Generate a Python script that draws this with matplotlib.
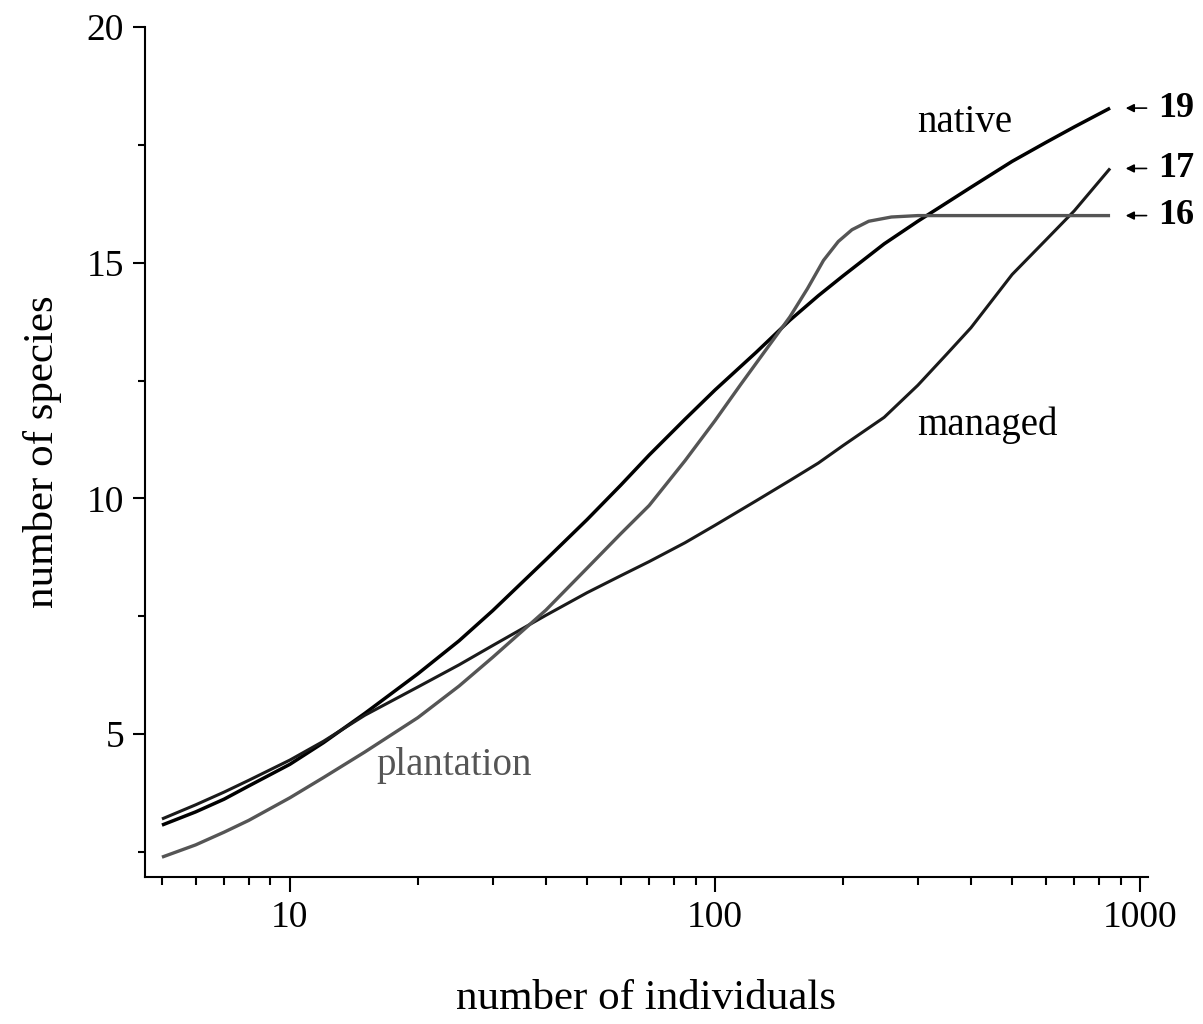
import numpy as np
import matplotlib
matplotlib.use("Agg")
import matplotlib.pyplot as plt
from matplotlib.ticker import FixedLocator, NullFormatter

plt.rcParams['font.family'] = ['Liberation Serif', 'DejaVu Serif']

# ----------------------------
# Rarefaction curves
# ----------------------------
native_n = [5, 6, 7, 8, 10, 12, 15, 20, 25, 30, 40, 50, 60, 70, 85, 100,
            125, 150, 175, 200, 250, 300, 400, 500, 600, 700, 850]
native_s = [3.07, 3.35, 3.62, 3.90, 4.36, 4.82, 5.44, 6.28, 6.98, 7.62,
            8.70, 9.55, 10.28, 10.92, 11.68, 12.30, 13.10, 13.78, 14.30,
            14.72, 15.40, 15.88, 16.60, 17.15, 17.55, 17.88, 18.28]

managed_n = [5, 6, 7, 8, 10, 12, 15, 20, 25, 30, 40, 50, 60, 70, 85, 100,
             125, 150, 175, 200, 250, 300, 350, 400, 500, 600, 700, 850]
managed_s = [3.20, 3.50, 3.77, 4.02, 4.45, 4.85, 5.40, 6.00, 6.47, 6.88,
             7.52, 8.00, 8.36, 8.66, 9.06, 9.43, 9.95, 10.38, 10.75, 11.12,
             11.72, 12.40, 13.05, 13.62, 14.75, 15.48, 16.10, 17.00]

plantation_n = [5, 6, 7, 8, 10, 12, 15, 20, 25, 30, 40, 50, 60, 70, 85, 100,
                115, 130, 150, 165, 180, 195, 210, 230, 260, 300, 400, 600,
                850]
plantation_s = [2.39, 2.65, 2.92, 3.17, 3.65, 4.08, 4.62, 5.35, 6.02, 6.63,
                7.63, 8.52, 9.25, 9.85, 10.80, 11.65, 12.42, 13.08, 13.85,
                14.45, 15.05, 15.45, 15.70, 15.88, 15.97, 16.00, 16.00,
                16.00, 16.00]

end_labels = ["19", "17", "16"]
end_values = [18.28, 17.0, 16.0]

grey = "#555555"

fig = plt.figure(figsize=(12.03, 10.24), dpi=100)
ax = fig.add_axes([0.1205, 0.1436, 0.8338, 0.8300])

ax.plot(native_n, native_s, color="black", lw=2.5, solid_capstyle="butt")
ax.plot(managed_n, managed_s, color="#1a1a1a", lw=2.2, solid_capstyle="butt")
ax.plot(plantation_n, plantation_s, color=grey, lw=2.4, solid_capstyle="butt")

ax.set_xscale("log")
ax.set_xlim(4.56, 1044)
ax.set_ylim(1.97, 20)

# ticks
ax.xaxis.set_major_locator(FixedLocator([10, 100, 1000]))
ax.set_xticklabels(["10", "100", "1000"])
minor_x = [v * d for d in (1, 10, 100) for v in range(2, 10)]
minor_x = [m for m in minor_x if m >= 5]
ax.xaxis.set_minor_locator(FixedLocator(minor_x))
ax.xaxis.set_minor_formatter(NullFormatter())
ax.yaxis.set_major_locator(FixedLocator([5, 10, 15, 20]))
ax.yaxis.set_minor_locator(FixedLocator([2.5, 7.5, 12.5, 17.5]))

ax.tick_params(which="major", direction="out", width=1.5, labelsize=27,
               pad=6)
ax.tick_params(axis="x", which="major", length=11)
ax.tick_params(axis="x", which="minor", length=6, width=1.5, direction="out")
ax.tick_params(axis="y", which="major", length=9)
ax.tick_params(axis="y", which="minor", length=5, width=1.5, direction="out")

for side in ("top", "right"):
    ax.spines[side].set_visible(False)
for side in ("left", "bottom"):
    ax.spines[side].set_linewidth(1.5)

ax.set_xlabel("number of individuals", fontsize=31, labelpad=32)
ax.set_ylabel("number of species", fontsize=31, labelpad=18)

# curve names
ax.text(387, 17.97, "native", fontsize=28, ha="center", va="center")
ax.text(436, 11.55, "managed", fontsize=28, ha="center", va="center")
ax.text(24.4, 4.34, "plantation", fontsize=28, ha="center", va="center",
        color=grey)

# end-point arrows with totals
for lab, val in zip(end_labels, end_values):
    ax.annotate(lab, xy=(925, val), xytext=(1100, val),
                fontsize=26, fontweight="bold", ha="left", va="center",
                annotation_clip=False,
                arrowprops=dict(arrowstyle="-|>", color="black", lw=1.2,
                                mutation_scale=12, shrinkA=6, shrinkB=0))

fig.savefig("out.png", dpi=100)
